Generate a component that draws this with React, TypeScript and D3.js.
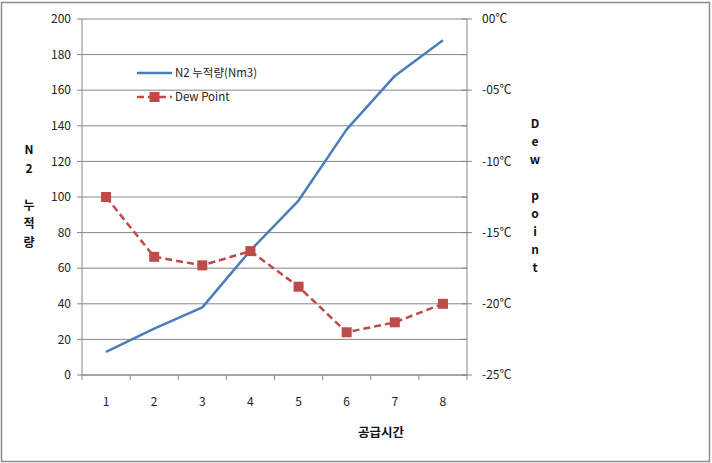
import React from "react";
import * as d3 from "d3";

const categories = ["1", "2", "3", "4", "5", "6", "7", "8"];
const n2Values = [13, 26, 38, 70, 98, 138, 168, 188];
const dewValues = [-12.5, -16.7, -17.3, -16.3, -18.8, -22.0, -21.3, -20.0];
const leftTicks = [0, 20, 40, 60, 80, 100, 120, 140, 160, 180, 200];
const rightMajorTicks = [0, -5, -10, -15, -20, -25];
const rightMinorTicks = [0, -2.5, -5, -7.5, -10, -12.5, -15, -17.5, -20, -22.5, -25];
const leftTitle = ["N", "2", "", "누", "적", "량"];
const rightTitle = ["D", "e", "w", "", "p", "o", "i", "n", "t"];
const xTitle = "공급시간";
const seriesNames = ["N2 누적량(Nm3)", "Dew Point"];

const W = 712;
const H = 463;
const plot = { left: 82, right: 467, top: 19, bottom: 375 };
const FONT = "'Noto Sans CJK KR', 'Noto Sans', sans-serif";
const BLUE = "#4a7ebb";
const RED = "#be4b48";

export default function App() {
  const x = d3.scaleBand().domain(categories).range([plot.left, plot.right]).padding(0);
  const yL = d3.scaleLinear().domain([0, 200]).range([plot.bottom, plot.top]);
  const yR = d3.scaleLinear().domain([-25, 0]).range([plot.bottom, plot.top]);
  const cx = (c: string) => (x(c) as number) + x.bandwidth() / 2;

  const n2Line = d3
    .line<number>()
    .x((_, i) => cx(categories[i]))
    .y((d) => yL(d));
  const dewLine = d3
    .line<number>()
    .x((_, i) => cx(categories[i]))
    .y((d) => yR(d));

  const fmtR = (v: number) => (v < 0 ? "-" : "") + String(Math.abs(v)).padStart(2, "0") + "℃";
  const xTickPositions = categories.map((c) => x(c) as number).concat([plot.right]);

  return (
    <svg
      width={W}
      height={H}
      style={{ position: "fixed", left: 0, top: 0, background: "#fff" }}
      fontFamily={FONT}
    >
      <rect x={1.5} y={2.5} width={708} height={459} fill="#fff" stroke="#8a8a8a" strokeWidth={1.5} />

      {leftTicks.map((t) => (
        <line key={"g" + t} x1={plot.left} x2={plot.right} y1={yL(t)} y2={yL(t)} stroke="#868686" strokeWidth={1} />
      ))}

      <line x1={plot.left} x2={plot.left} y1={plot.top} y2={plot.bottom} stroke="#868686" />
      {leftTicks.map((t) => (
        <g key={"l" + t}>
          <line x1={plot.left - 5} x2={plot.left} y1={yL(t)} y2={yL(t)} stroke="#868686" />
          <text x={plot.left - 11} y={yL(t)} dy="0.35em" textAnchor="end" fontSize={12} fill="#222">
            {t}
          </text>
        </g>
      ))}

      <line x1={plot.right} x2={plot.right} y1={plot.top} y2={plot.bottom} stroke="#868686" />
      {rightMinorTicks.map((t) => (
        <line key={"rm" + t} x1={plot.right - 5} x2={plot.right} y1={yR(t)} y2={yR(t)} stroke="#868686" />
      ))}
      {rightMajorTicks.map((t) => (
        <g key={"r" + t}>
          <line x1={plot.right} x2={plot.right + 5} y1={yR(t)} y2={yR(t)} stroke="#868686" />
          <text x={plot.right + 15} y={yR(t)} dy="0.35em" textAnchor="start" fontSize={12} fill="#222">
            {fmtR(t)}
          </text>
        </g>
      ))}

      <line x1={plot.left} x2={plot.right} y1={plot.bottom} y2={plot.bottom} stroke="#868686" />
      {xTickPositions.map((p, i) => (
        <line key={"xt" + i} x1={p} x2={p} y1={plot.bottom} y2={plot.bottom + 5} stroke="#868686" />
      ))}
      {categories.map((c) => (
        <text key={"xl" + c} x={cx(c)} y={plot.bottom + 27} dy="0.35em" textAnchor="middle" fontSize={12} fill="#222">
          {c}
        </text>
      ))}

      <path d={n2Line(n2Values) as string} fill="none" stroke={BLUE} strokeWidth={2.5} strokeLinejoin="round" />
      <path d={dewLine(dewValues) as string} fill="none" stroke={RED} strokeWidth={2.5} strokeDasharray="7,4" />
      {dewValues.map((v, i) => (
        <rect key={"m" + i} x={cx(categories[i]) - 5} y={yR(v) - 5} width={10} height={10} fill={RED} />
      ))}

      <line x1={137} x2={172} y1={73} y2={73} stroke={BLUE} strokeWidth={2.5} />
      <text x={175} y={73} dy="0.35em" fontSize={11.5} fill="#222">
        {seriesNames[0]}
      </text>
      <line x1={137} x2={172} y1={97} y2={97} stroke={RED} strokeWidth={2.5} strokeDasharray="7,4" />
      <rect x={149.5} y={92} width={10} height={10} fill={RED} />
      <text x={175} y={97} dy="0.35em" fontSize={11.5} fill="#222">
        {seriesNames[1]}
      </text>

      {leftTitle.map((ch, i) => (
        <text key={"lt" + i} x={29} y={150 + i * 18.5} dy="0.35em" textAnchor="middle" fontSize={12} fontWeight="bold" fill="#111">
          {ch}
        </text>
      ))}
      {rightTitle.map((ch, i) => (
        <text key={"rt" + i} x={535} y={124 + i * 18} dy="0.35em" textAnchor="middle" fontSize={12} fontWeight="bold" fill="#111">
          {ch}
        </text>
      ))}
      <text x={381} y={433} dy="0.35em" textAnchor="middle" fontSize={12.5} fontWeight="bold" fill="#111">
        {xTitle}
      </text>
    </svg>
  );
}
